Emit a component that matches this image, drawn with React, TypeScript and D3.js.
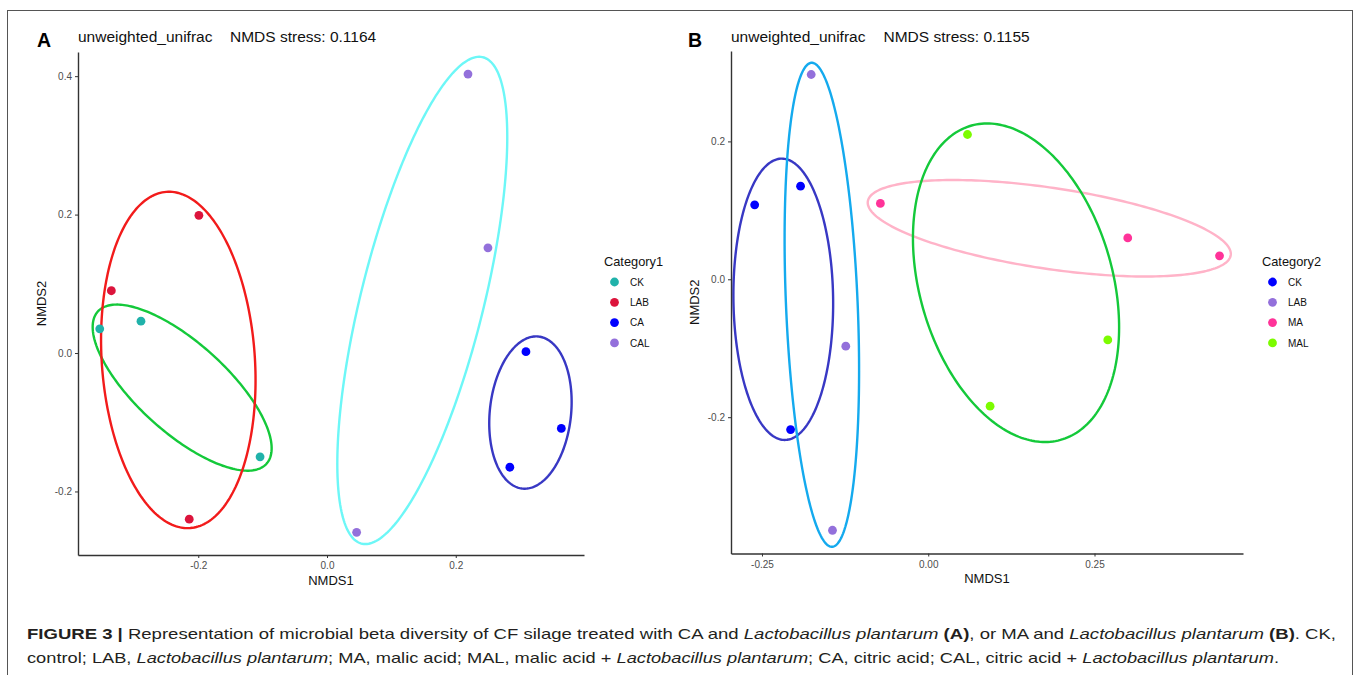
import React, { useEffect, useRef } from "react";
import * as d3 from "d3";

// ---- Panel A : Category1 (CK / LAB / CA / CAL) ----
const groupsA = ["CK", "LAB", "CA", "CAL"];
const sampleGroupA = ["CK", "CK", "CK", "LAB", "LAB", "LAB", "CA", "CA", "CA", "CAL", "CAL", "CAL"];
const nmds1A = [-0.353, -0.289, -0.104, -0.199, -0.335, -0.214, 0.309, 0.364, 0.284, 0.219, 0.250, 0.046];
const nmds2A = [0.035, 0.046, -0.150, 0.199, 0.090, -0.240, 0.002, -0.109, -0.165, 0.403, 0.152, -0.259];
// ellipse per group: centre, half extent in x and y, tilt (offset of the rightmost point / half height)
const ellCxA = [-0.225, -0.231, 0.316, 0.148];
const ellCyA = [-0.050, -0.010, -0.086, 0.076];
const ellRxA = [0.139, 0.120, 0.064, 0.132];
const ellRyA = [0.120, 0.243, 0.110, 0.352];
const ellTiltA = [-0.73, -0.12, 0.14, 0.67];
const xTicksA = [-0.2, 0, 0.2];
const xTickLabelsA = ["-0.2", "0.0", "0.2"];
const yTicksA = [-0.2, 0, 0.2, 0.4];
const yTickLabelsA = ["-0.2", "0.0", "0.2", "0.4"];
const stressA = "0.1164";

// ---- Panel B : Category2 (CK / LAB / MA / MAL) ----
const groupsB = ["CK", "LAB", "MA", "MAL"];
const sampleGroupB = ["CK", "CK", "CK", "LAB", "LAB", "LAB", "MA", "MA", "MA", "MAL", "MAL", "MAL"];
const nmds1B = [-0.261, -0.192, -0.207, -0.176, -0.124, -0.144, -0.072, 0.300, 0.438, 0.059, 0.270, 0.093];
const nmds2B = [0.108, 0.135, -0.218, 0.297, -0.097, -0.364, 0.110, 0.060, 0.034, 0.210, -0.088, -0.184];
const ellCxB = [-0.218, -0.160, 0.182, 0.132];
const ellCyB = [-0.029, -0.037, 0.074, -0.005];
const ellRxB = [0.075, 0.056, 0.273, 0.155];
const ellRyB = [0.204, 0.351, 0.070, 0.231];
const ellTiltB = [-0.03, -0.27, -0.53, -0.28];
const xTicksB = [-0.25, 0, 0.25];
const xTickLabelsB = ["-0.25", "0.00", "0.25"];
const yTicksB = [-0.2, 0, 0.2];
const yTickLabelsB = ["-0.2", "0.0", "0.2"];
const stressB = "0.1155";

const pointColorsA = ["#20B2AA", "#DC143C", "#0000FF", "#9370DB"];
const ellipseColorsA = ["#14C93A", "#F21B1B", "#3838C4", "#6DF7F7"];
const pointColorsB = ["#0000FF", "#9370DB", "#FF3399", "#7CFC00"];
const ellipseColorsB = ["#3838C4", "#14AAEE", "#FFB3C8", "#14C93A"];

const FONT = "'Liberation Sans', Arial, Helvetica, sans-serif";

function drawPanel(svg, p) {
  const x = d3.scaleLinear().domain(p.xDomain).range([p.left, p.right]);
  const y = d3.scaleLinear().domain(p.yDomain).range([p.bottom, p.top]);
  const g = svg.append("g");

  // ellipses
  const ts = d3.range(0, 2 * Math.PI, Math.PI / 120);
  const line = d3.line().curve(d3.curveLinearClosed);
  p.groups.forEach((grp, i) => {
    const phi = Math.acos(p.ellTilt[i]);
    const pts = ts.map((t) => [
      x(p.ellCx[i] + p.ellRx[i] * Math.cos(t)),
      y(p.ellCy[i] + p.ellRy[i] * Math.cos(t + phi)),
    ]);
    g.append("path")
      .attr("d", line(pts))
      .attr("fill", "none")
      .attr("stroke", p.ellipseColors[i])
      .attr("stroke-width", 2.4);
  });

  // points
  g.selectAll(".pt")
    .data(p.nmds1.map((v, i) => ({ x: v, y: p.nmds2[i], g: p.sampleGroup[i] })))
    .enter()
    .append("circle")
    .attr("cx", (d) => x(d.x))
    .attr("cy", (d) => y(d.y))
    .attr("r", 4.4)
    .attr("fill", (d) => p.pointColors[p.groups.indexOf(d.g)]);

  // axes
  const xAxis = d3
    .axisBottom(x)
    .tickValues(p.xTicks)
    .tickFormat((d, i) => p.xTickLabels[i])
    .tickSize(3)
    .tickSizeOuter(0)
    .tickPadding(4);
  const gx = g.append("g").attr("transform", `translate(0,${p.bottom})`).call(xAxis);
  const yAxis = d3
    .axisLeft(y)
    .tickValues(p.yTicks)
    .tickFormat((d, i) => p.yTickLabels[i])
    .tickSize(3)
    .tickSizeOuter(0)
    .tickPadding(3);
  const gy = g.append("g").attr("transform", `translate(${p.left},0)`).call(yAxis);
  [gx, gy].forEach((ax) => {
    ax.select(".domain").attr("stroke", "#333").attr("stroke-width", 1.4);
    ax.selectAll(".tick line").attr("stroke", "#333").attr("stroke-width", 1);
    ax.selectAll(".tick text")
      .attr("fill", "#4D4D4D")
      .attr("font-size", "10px")
      .attr("font-family", FONT);
  });

  // axis titles
  g.append("text")
    .attr("x", (p.left + p.right) / 2)
    .attr("y", p.bottom + 29.5)
    .attr("text-anchor", "middle")
    .attr("font-size", "13px")
    .attr("font-family", FONT)
    .attr("fill", "#111")
    .text("NMDS1");
  g.append("text")
    .attr("transform", `translate(${p.yTitleX},${(p.top + p.bottom) / 2}) rotate(-90)`)
    .attr("text-anchor", "middle")
    .attr("font-size", "13px")
    .attr("font-family", FONT)
    .attr("fill", "#111")
    .text("NMDS2");

  // panel letter and title
  g.append("text")
    .attr("x", p.letterX)
    .attr("y", 46.5)
    .attr("font-size", "19.5px")
    .attr("font-weight", "bold")
    .attr("font-family", FONT)
    .attr("fill", "#000")
    .text(p.letter);
  g.append("text")
    .attr("x", p.left)
    .attr("y", 41.5)
    .attr("font-size", "15.5px")
    .attr("font-family", FONT)
    .attr("fill", "#111")
    .text("unweighted_unifrac");
  g.append("text")
    .attr("x", p.stressX)
    .attr("y", 41.5)
    .attr("font-size", "15.5px")
    .attr("font-family", FONT)
    .attr("fill", "#111")
    .text(`NMDS stress: ${p.stress}`);

  // legend
  const lg = g.append("g");
  lg.append("text")
    .attr("x", p.legendX)
    .attr("y", 266)
    .attr("font-size", "12.8px")
    .attr("font-family", FONT)
    .attr("fill", "#111")
    .text(p.legendTitle);
  p.groups.forEach((grp, i) => {
    const cy = 282 + i * 20.3;
    lg.append("circle")
      .attr("cx", p.legendX + 10.5)
      .attr("cy", cy)
      .attr("r", 4.4)
      .attr("fill", p.pointColors[i]);
    lg.append("text")
      .attr("x", p.legendX + 26)
      .attr("y", cy + 3.6)
      .attr("font-size", "10px")
      .attr("font-family", FONT)
      .attr("fill", "#111")
      .text(grp);
  });
}

export default function App() {
  const svgRef = useRef(null);

  useEffect(() => {
    const svg = d3.select(svgRef.current);
    svg.selectAll("*").remove();

    svg
      .append("rect")
      .attr("x", 7.5)
      .attr("y", 10.5)
      .attr("width", 1345)
      .attr("height", 680)
      .attr("fill", "none")
      .attr("stroke", "#555")
      .attr("stroke-width", 1);

    drawPanel(svg, {
      left: 78, right: 584, top: 52, bottom: 555,
      xDomain: [-0.3868, 0.3992], yDomain: [-0.2918, 0.4349],
      groups: groupsA, sampleGroup: sampleGroupA, nmds1: nmds1A, nmds2: nmds2A,
      ellCx: ellCxA, ellCy: ellCyA, ellRx: ellRxA, ellRy: ellRyA, ellTilt: ellTiltA,
      pointColors: pointColorsA, ellipseColors: ellipseColorsA,
      xTicks: xTicksA, xTickLabels: xTickLabelsA, yTicks: yTicksA, yTickLabels: yTickLabelsA,
      letter: "A", letterX: 37, stressX: 230, stress: stressA,
      yTitleX: 45.5, legendX: 604, legendTitle: "Category1",
    });

    drawPanel(svg, {
      left: 731, right: 1243, top: 51, bottom: 553.5,
      xDomain: [-0.2966, 0.4733], yDomain: [-0.3977, 0.3311],
      groups: groupsB, sampleGroup: sampleGroupB, nmds1: nmds1B, nmds2: nmds2B,
      ellCx: ellCxB, ellCy: ellCyB, ellRx: ellRxB, ellRy: ellRyB, ellTilt: ellTiltB,
      pointColors: pointColorsB, ellipseColors: ellipseColorsB,
      xTicks: xTicksB, xTickLabels: xTickLabelsB, yTicks: yTicksB, yTickLabels: yTickLabelsB,
      letter: "B", letterX: 688, stressX: 883.5, stress: stressB,
      yTitleX: 699, legendX: 1262, legendTitle: "Category2",
    });

    // caption
    const cap1 = svg
      .append("text")
      .attr("x", 27)
      .attr("y", 638.5)
      .attr("font-size", "15px")
      .attr("font-family", FONT)
      .attr("fill", "#231F20")
      .attr("textLength", 1309)
      .attr("lengthAdjust", "spacingAndGlyphs");
    cap1.append("tspan").attr("font-weight", "bold").text("FIGURE 3 | ");
    cap1.append("tspan").text("Representation of microbial beta diversity of CF silage treated with CA and ");
    cap1.append("tspan").attr("font-style", "italic").text("Lactobacillus plantarum");
    cap1.append("tspan").text(" ");
    cap1.append("tspan").attr("font-weight", "bold").text("(A)");
    cap1.append("tspan").text(", or MA and ");
    cap1.append("tspan").attr("font-style", "italic").text("Lactobacillus plantarum");
    cap1.append("tspan").text(" ");
    cap1.append("tspan").attr("font-weight", "bold").text("(B)");
    cap1.append("tspan").text(". CK,");

    const cap2 = svg
      .append("text")
      .attr("x", 27)
      .attr("y", 662.5)
      .attr("font-size", "15px")
      .attr("font-family", FONT)
      .attr("fill", "#231F20")
      .attr("textLength", 1252)
      .attr("lengthAdjust", "spacingAndGlyphs");
    cap2.append("tspan").text("control; LAB, ");
    cap2.append("tspan").attr("font-style", "italic").text("Lactobacillus plantarum");
    cap2.append("tspan").text("; MA, malic acid; MAL, malic acid + ");
    cap2.append("tspan").attr("font-style", "italic").text("Lactobacillus plantarum");
    cap2.append("tspan").text("; CA, citric acid; CAL, citric acid + ");
    cap2.append("tspan").attr("font-style", "italic").text("Lactobacillus plantarum");
    cap2.append("tspan").text(".");
  }, []);

  return (
    <div>
      <svg
        ref={svgRef}
        width={1358}
        height={675}
        style={{ position: "absolute", left: 0, top: 0, background: "#fff" }}
      ></svg>
    </div>
  );
}
